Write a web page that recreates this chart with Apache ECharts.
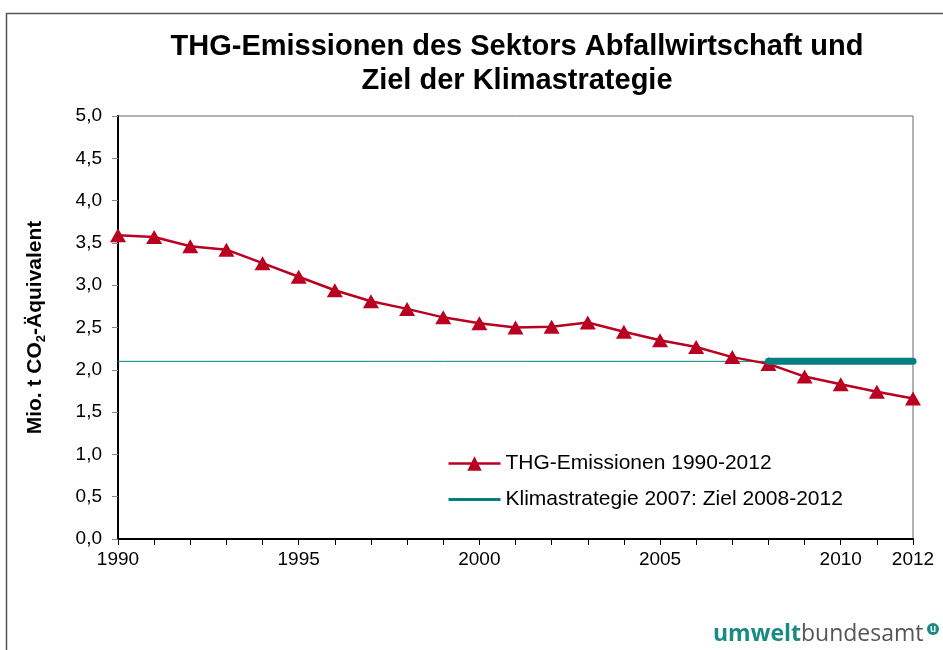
<!DOCTYPE html>
<html><head><meta charset="utf-8">
<script src="https://cdn.jsdelivr.net/npm/echarts@6/dist/echarts.min.js"></script>
<style>html,body{margin:0;padding:0;background:#fff}#c{width:943px;height:650px}</style>
</head><body><div id="c"></div>
<script>
const years = [1990,1991,1992,1993,1994,1995,1996,1997,1998,1999,2000,2001,2002,2003,2004,2005,2006,2007,2008,2009,2010,2011,2012];
const emissions = [3.59,3.57,3.46,3.42,3.26,3.10,2.94,2.81,2.72,2.62,2.55,2.50,2.51,2.56,2.45,2.35,2.27,2.15,2.07,1.92,1.83,1.74,1.66];
const targetValue = 2.1;
const targetBaseYears = [1990, 2008];
const targetPeriodYears = [2008, 2012];
const xLabelYears = [1990,1995,2000,2005,2010,2012];
const seriesNames = ['THG-Emissionen 1990-2012', 'Klimastrategie 2007: Ziel 2008-2012'];

const red = '#BA0020', teal = '#008080';
const FF = 'Liberation Sans, Arial, sans-serif';
const chart = echarts.init(document.getElementById('c'));
chart.setOption({
  animation: false,
  textStyle: {fontFamily: FF},
  title: {
    text: 'THG-Emissionen des Sektors Abfallwirtschaft und\nZiel der Klimastrategie',
    left: 512, textAlign: 'center', top: 25,
    textStyle: {fontSize: 29, fontWeight: 'bold', color: '#000', lineHeight: 34, fontFamily: FF}
  },
  grid: {left: 118, right: 30, top: 116, bottom: 111, show: true, borderColor: '#666', borderWidth: 1},
  legend: {
    orient: 'vertical', left: 447, top: 453, padding: 0, itemGap: 15, itemWidth: 52, itemHeight: 18,
    textStyle: {fontSize: 21, color: '#000', fontFamily: FF},
    data: [
      {name: seriesNames[0], lineStyle: {width: 2.5, color: red}},
      {name: seriesNames[1], lineStyle: {width: 3, color: teal}, itemStyle: {opacity: 0}}
    ]
  },
  xAxis: {
    type: 'value', min: 1990, max: 2012, interval: 1,
    axisLine: {lineStyle: {color: '#000', width: 2}},
    axisTick: {show: true, length: 6, lineStyle: {color: '#000', width: 1}},
    splitLine: {show: false},
    axisLabel: {
      fontSize: 19, color: '#000', margin: 11,
      formatter: v => xLabelYears.includes(v) ? String(v) : ''
    }
  },
  yAxis: {
    type: 'value', min: 0, max: 5, interval: 0.5,
    name: '{a|Mio. t CO}{s|2}{a|-Äquivalent}',
    nameLocation: 'middle', nameRotate: 90, nameGap: 70,
    nameTextStyle: {rich: {
      a: {fontSize: 21, fontWeight: 'bold', color: '#000', fontFamily: FF},
      s: {fontSize: 13, fontWeight: 'bold', color: '#000', padding: [12, 0, 0, 0], fontFamily: FF}
    }},
    axisLine: {show: true, lineStyle: {color: '#000', width: 2}},
    axisTick: {show: true, length: 6, lineStyle: {color: '#888'}},
    splitLine: {show: false},
    axisLabel: {fontSize: 19, color: '#000', margin: 16, formatter: v => v.toFixed(1).replace('.', ',')}
  },
  series: [
    {
      name: seriesNames[1], type: 'line', symbol: 'none',
      lineStyle: {color: teal, width: 1}, itemStyle: {color: teal},
      data: targetBaseYears.map(y => [y, targetValue]), z: 1
    },
    {
      name: 'ziel-periode', type: 'line', symbol: 'none',
      lineStyle: {color: teal, width: 7, cap: 'round'}, itemStyle: {color: teal},
      data: targetPeriodYears.map(y => [y, targetValue]), z: 3
    },
    {
      name: seriesNames[0], type: 'line', symbol: 'triangle', symbolSize: [16, 14],
      lineStyle: {color: red, width: 2.5}, itemStyle: {color: red},
      data: years.map((y, i) => [y, emissions[i]]), z: 2
    }
  ],
  graphic: [
    {type: 'rect', left: 4, top: 11, shape: {width: 960, height: 700}, style: {fill: 'none', stroke: '#555', lineWidth: 1.5}, silent: true, z: 0},
    {type: 'text', left: 713, top: 623, style: {
      text: '{b|umwelt}{r|bundesamt}',
      rich: {
        b: {fontSize: 23, fontWeight: 'bold', fill: '#1a8a82', fontFamily: 'Open Sans, Liberation Sans, sans-serif'},
        r: {fontSize: 23, fill: '#555', fontFamily: 'Open Sans, Liberation Sans, sans-serif'}
      }
    }},
    {type: 'circle', shape: {cx: 933, cy: 629, r: 6}, style: {fill: '#1a8a82'}},
    {type: 'text', x: 933, y: 629, style: {text: 'u', fill: '#fff', fontSize: 10, fontWeight: 'bold', align: 'center', verticalAlign: 'middle'}}
  ]
});
</script></body></html>
